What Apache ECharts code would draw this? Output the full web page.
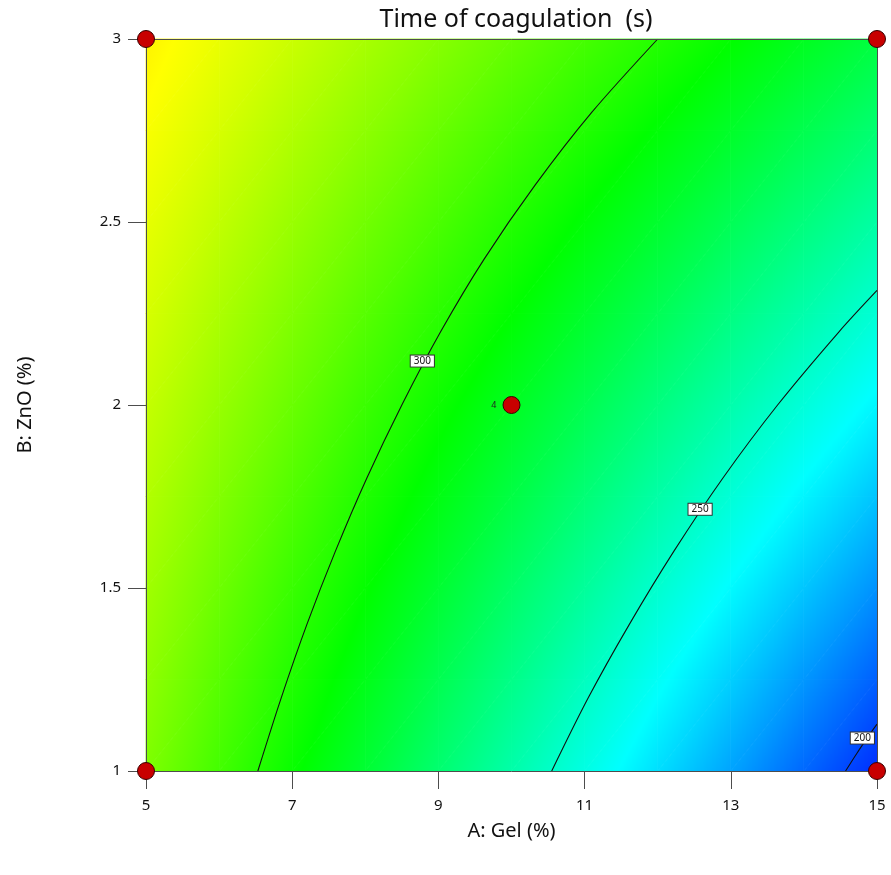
<!DOCTYPE html>
<html>
<head>
<meta charset="utf-8">
<script src="https://cdn.jsdelivr.net/npm/echarts@6/dist/echarts.min.js"></script>
<style>html,body{margin:0;padding:0;background:#fff}#main{width:891px;height:875px}</style>
</head>
<body>
<div id="main"></div>
<script>
// ---- data ----
const xNodes = [5, 6, 7, 8, 9, 10, 11, 12, 13, 14, 15];            // A: Gel (%)
const yNodes = [1, 1.25, 1.5, 1.75, 2, 2.25, 2.5, 2.75, 3];         // B: ZnO (%)
// Time of coagulation (s), rows = yNodes (bottom to top), cols = xNodes
const timeGrid = [
  [319.0, 306.6, 294.1, 281.7, 269.2, 256.8, 244.4, 231.9, 219.5, 207.0, 194.6],
  [322.8, 311.0, 299.2, 287.5, 275.7, 264.0, 252.2, 240.4, 228.7, 216.9, 205.2],
  [326.5, 315.4, 304.3, 293.3, 282.2, 271.1, 260.0, 248.9, 237.9, 226.8, 215.7],
  [330.3, 319.9, 309.5, 299.1, 288.7, 278.3, 267.9, 257.5, 247.1, 236.7, 226.3],
  [334.0, 324.3, 314.6, 304.8, 295.1, 285.4, 275.7, 266.0, 256.2, 246.5, 236.8],
  [337.8, 328.7, 319.7, 310.6, 301.6, 292.6, 283.5, 274.5, 265.4, 256.4, 247.4],
  [341.5, 333.1, 324.8, 316.4, 308.1, 299.7, 291.3, 283.0, 274.6, 266.3, 257.9],
  [345.3, 337.6, 329.9, 322.2, 314.5, 306.9, 299.2, 291.5, 283.8, 276.1, 268.5],
  [349.0, 342.0, 335.0, 328.0, 321.0, 314.0, 307.0, 300.0, 293.0, 286.0, 279.0]
];
const contour300X = [6.53, 6.85, 7.20, 7.59, 8.02, 8.50, 9.03, 9.63, 10.32, 11.10, 12.00];
const contour300Y = [1.0, 1.2, 1.4, 1.6, 1.8, 2.0, 2.2, 2.4, 2.6, 2.8, 3.0];
const contour250X = [10.55, 11.05, 11.61, 12.22, 12.89, 13.64, 14.48, 15.0];
const contour250Y = [1.0, 1.2, 1.4, 1.6, 1.8, 2.0, 2.2, 2.313];
const contour200X = [14.57, 14.73, 14.90, 15.0];
const contour200Y = [1.0, 1.05, 1.1, 1.128];
const contourLabelX = [8.78, 12.58, 14.8];
const contourLabelY = [2.12, 1.715, 1.09];
const contourLabelText = ['300', '250', '200'];
const designX = [5, 5, 15, 15, 10];
const designY = [1, 3, 1, 3, 2];
const designLabel = ['', '', '', '', '4'];
const xTicks = [5, 7, 9, 11, 13, 15];
const yTicks = [1, 1.5, 2, 2.5, 3];
const colorMin = 185, colorMax = 400;
const palette = [[0,0,255],[0,255,255],[0,255,0],[255,255,0],[255,0,0]];

// ---- helpers ----
function colorAt(v) {
  let t = (v - colorMin) / (colorMax - colorMin) * (palette.length - 1);
  t = Math.max(0, Math.min(palette.length - 1, t));
  let k = Math.min(palette.length - 2, Math.floor(t));
  const f = t - k, a = palette[k], b = palette[k + 1];
  return 'rgb(' + Math.round(a[0] + (b[0]-a[0])*f) + ',' + Math.round(a[1] + (b[1]-a[1])*f) + ',' + Math.round(a[2] + (b[2]-a[2])*f) + ')';
}
const breaks = palette.map(function (_, k) { return colorMin + (colorMax - colorMin) * k / (palette.length - 1); });
function tri(p0, p1, p2, v0, v1, v2) {
  const vmin = Math.min(v0, v1, v2), vmax = Math.max(v0, v1, v2);
  let fill;
  const d1x = p1[0]-p0[0], d1y = p1[1]-p0[1], d2x = p2[0]-p0[0], d2y = p2[1]-p0[1];
  const det = d1x*d2y - d1y*d2x;
  if (vmax - vmin < 1e-6 || Math.abs(det) < 1e-9) {
    fill = colorAt(v0);
  } else {
    const dv1 = v1 - v0, dv2 = v2 - v0;
    const A = (dv1*d2y - dv2*d1y) / det;
    const B = (d1x*dv2 - d2x*dv1) / det;
    const g2 = A*A + B*B;
    const sx = p0[0] + (vmin - v0) * A / g2, sy = p0[1] + (vmin - v0) * B / g2;
    const ex = p0[0] + (vmax - v0) * A / g2, ey = p0[1] + (vmax - v0) * B / g2;
    const stops = [{offset: 0, color: colorAt(vmin)}];
    breaks.forEach(function (bv) {
      if (bv > vmin && bv < vmax) stops.push({offset: (bv - vmin) / (vmax - vmin), color: colorAt(bv)});
    });
    stops.push({offset: 1, color: colorAt(vmax)});
    fill = new echarts.graphic.LinearGradient(sx, sy, ex, ey, stops, true);
  }
  return {type: 'polygon', shape: {points: [p0, p1, p2]}, style: {fill: fill, stroke: fill, lineWidth: 0.8}, silent: true};
}

const cells = [];
for (let j = 0; j < yNodes.length - 1; j++) {
  for (let i = 0; i < xNodes.length - 1; i++) {
    cells.push([xNodes[i], yNodes[j], timeGrid[j][i], i, j]);
  }
}
function renderCell(params, api) {
  const i = api.value(3), j = api.value(4);
  const p00 = api.coord([xNodes[i], yNodes[j]]);
  const p10 = api.coord([xNodes[i+1], yNodes[j]]);
  const p01 = api.coord([xNodes[i], yNodes[j+1]]);
  const p11 = api.coord([xNodes[i+1], yNodes[j+1]]);
  const v00 = timeGrid[j][i], v10 = timeGrid[j][i+1], v01 = timeGrid[j+1][i], v11 = timeGrid[j+1][i+1];
  return {type: 'group', children: [
    tri(p00, p10, p11, v00, v10, v11),
    tri(p00, p11, p01, v00, v11, v01)
  ]};
}
function zip(xs, ys) { return xs.map(function (x, k) { return [x, ys[k]]; }); }

const FONT = 'Noto Sans';
const lineCol = '#4d4d4d';
const contourStyle = {color: '#111111', width: 1.1};
function contourSeries(xs, ys) {
  return {type: 'line', data: zip(xs, ys), smooth: 0.3, symbol: 'none', lineStyle: contourStyle, z: 5, silent: true};
}

const chart = echarts.init(document.getElementById('main'), null, {renderer: 'canvas'});
chart.setOption({
  animation: false,
  backgroundColor: '#ffffff',
  textStyle: {fontFamily: FONT},
  title: {
    text: 'Time of coagulation  (s)', left: 511, top: 2, textAlign: 'center',
    textStyle: {fontFamily: FONT, fontSize: 25, fontWeight: 'normal', color: '#111'}
  },
  grid: {left: 146, right: 14, top: 39, bottom: 104},
  xAxis: [{
    type: 'value', min: 5, max: 15, position: 'bottom',
    name: 'A: Gel (%)', nameLocation: 'middle', nameGap: 50,
    nameTextStyle: {fontFamily: FONT, fontSize: 20, color: '#111'},
    axisLine: {show: true, lineStyle: {color: lineCol, width: 1}},
    axisTick: {show: true, inside: false, length: 18, customValues: xTicks, lineStyle: {color: lineCol}},
    axisLabel: {customValues: xTicks, margin: 27, fontSize: 15, color: '#111', fontFamily: FONT},
    splitLine: {show: false}, z: 10
  }, {
    type: 'value', min: 5, max: 15, position: 'top',
    axisLine: {show: true, onZero: false, lineStyle: {color: lineCol, width: 1}},
    axisTick: {show: false}, axisLabel: {show: false}, splitLine: {show: false}, z: 10
  }],
  yAxis: [{
    type: 'value', min: 1, max: 3, position: 'left',
    name: 'B: ZnO (%)', nameLocation: 'middle', nameGap: 111,
    nameTextStyle: {fontFamily: FONT, fontSize: 20, color: '#111'},
    axisLine: {show: true, onZero: false, lineStyle: {color: lineCol, width: 1}},
    axisTick: {show: true, inside: false, length: 18, customValues: yTicks, lineStyle: {color: lineCol}},
    axisLabel: {customValues: yTicks, margin: 25, fontSize: 15, color: '#111', fontFamily: FONT},
    splitLine: {show: false}, z: 10
  }, {
    type: 'value', min: 1, max: 3, position: 'right',
    axisLine: {show: true, onZero: false, lineStyle: {color: lineCol, width: 1}},
    axisTick: {show: false}, axisLabel: {show: false}, splitLine: {show: false}, z: 10
  }],
  series: [
    {type: 'custom', renderItem: renderCell, data: cells, encode: {x: 0, y: 1}, z: 1, silent: true},
    contourSeries(contour300X, contour300Y),
    contourSeries(contour250X, contour250Y),
    contourSeries(contour200X, contour200Y),
    {
      type: 'scatter', z: 6, silent: true,
      data: contourLabelX.map(function (x, k) { return {value: [x, contourLabelY[k]], name: contourLabelText[k]}; }),
      symbol: 'rect', symbolSize: 1, itemStyle: {color: 'rgba(0,0,0,0)', opacity: 1},
      label: {
        show: true, position: 'inside', formatter: '{b}', fontSize: 10, color: '#111', fontFamily: FONT,
        backgroundColor: '#ffffff', borderColor: '#333333', borderWidth: 1, padding: [1, 3, 0, 3]
      }
    },
    {
      type: 'scatter', z: 12, clip: false, silent: true,
      data: designX.map(function (x, k) { return {value: [x, designY[k]], name: designLabel[k]}; }),
      symbol: 'circle', symbolSize: 17,
      itemStyle: {color: '#c80000', borderColor: '#3a0000', borderWidth: 1, opacity: 1},
      label: {show: true, position: 'left', distance: 6, formatter: '{b}', fontSize: 9, color: '#222', fontFamily: FONT}
    }
  ]
});
</script>
</body>
</html>
